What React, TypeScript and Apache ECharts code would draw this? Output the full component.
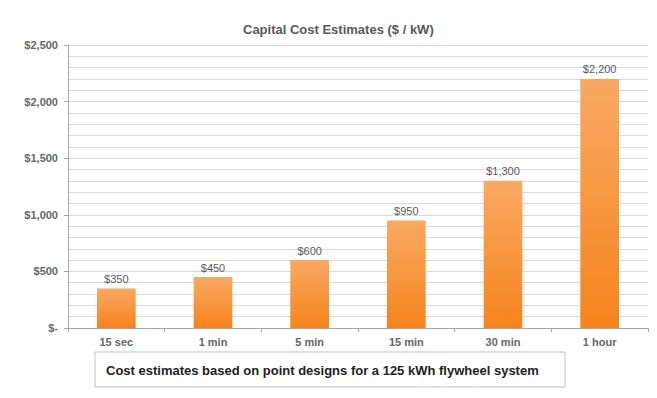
import React, { useEffect, useRef } from "react";
import * as echarts from "echarts";

const categories = ["15 sec", "1 min", "5 min", "15 min", "30 min", "1 hour"];
const costs = [350, 450, 600, 950, 1300, 2200];
const yTicks = [0, 500, 1000, 1500, 2000, 2500];
const titleText = "Capital Cost Estimates ($ / kW)";
const captionText = "Cost estimates based on point designs for a 125 kWh flywheel system";

const fmt = (v: number) => (v === 0 ? "$-" : "$" + v.toLocaleString("en-US"));

export default function App() {
  const ref = useRef<HTMLDivElement>(null);
  useEffect(() => {
    if (!ref.current) return;
    const chart = echarts.init(ref.current, null, { renderer: "svg" });
    const font = "'Liberation Sans', Arial, sans-serif";
    chart.setOption({
      animation: false,
      backgroundColor: "#ffffff",
      textStyle: { fontFamily: font },
      title: {
        text: titleText,
        left: 238,
        top: 18,
        textStyle: { fontSize: 13, fontWeight: "bold", color: "#595959", fontFamily: font },
      },
      grid: { left: 68, right: 9, top: 45, bottom: 70 },
      xAxis: {
        type: "category",
        data: categories,
        axisLine: { lineStyle: { color: "#a6a6a6" } },
        axisTick: { show: true, length: 4, lineStyle: { color: "#a6a6a6" } },
        axisLabel: { color: "#666", fontSize: 11, fontWeight: "bold", margin: 8, fontFamily: font },
      },
      yAxis: {
        type: "value",
        min: yTicks[0],
        max: yTicks[yTicks.length - 1],
        interval: 500,
        axisLine: { show: true, lineStyle: { color: "#a6a6a6" } },
        axisTick: { show: true, length: 4, lineStyle: { color: "#a6a6a6" } },
        axisLabel: { color: "#666", fontSize: 11, fontWeight: "bold", margin: 10, formatter: fmt, fontFamily: font },
        splitLine: { lineStyle: { color: "#d9d9d9", width: 1.2 } },
        minorTick: { show: false, splitNumber: 5 },
        minorSplitLine: { show: true, lineStyle: { color: "#d9d9d9", width: 1.2 } },
      },
      series: [
        {
          type: "bar",
          data: costs,
          barWidth: "40%",
          itemStyle: {
            color: new echarts.graphic.LinearGradient(0, 0, 0, 1, [
              { offset: 0, color: "#f9a963" },
              { offset: 1, color: "#f6841c" },
            ]),
          },
          label: {
            show: true,
            position: "top",
            distance: 4,
            color: "#595959",
            fontSize: 11,
            formatter: (p: any) => fmt(p.value),
            fontFamily: font,
          },
        },
      ],
      graphic: [
        {
          type: "rect",
          shape: { x: 95, y: 352, width: 470, height: 35 },
          style: { fill: "#fff", stroke: "#bfbfbf", lineWidth: 1 },
        },
        {
          type: "text",
          x: 106,
          y: 370,
          style: { text: captionText, font: "bold 13px " + font, fill: "#222", textVerticalAlign: "middle" },
        },
      ],
    });
    return () => chart.dispose();
  }, []);
  return <div ref={ref} style={{ width: 657, height: 398, margin: -8 }} />;
}
